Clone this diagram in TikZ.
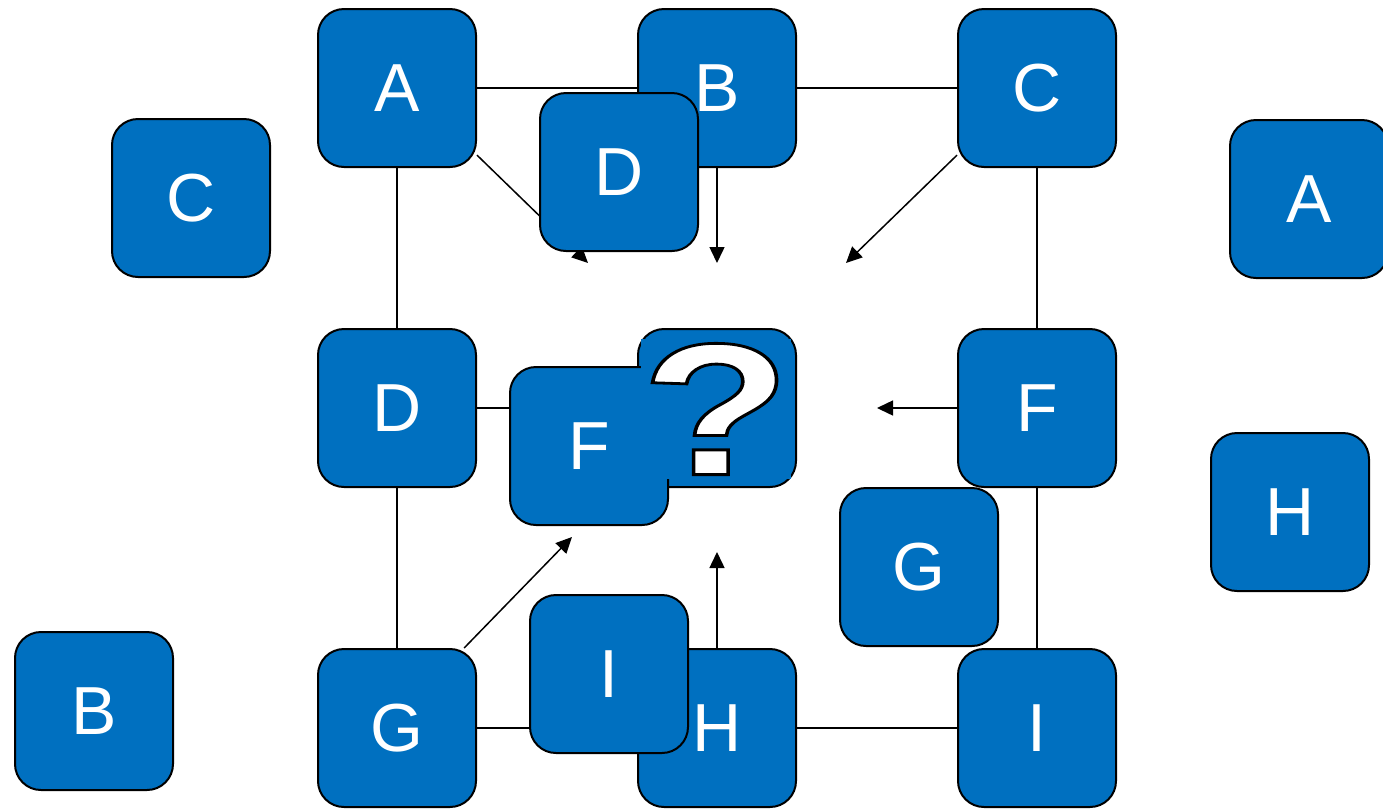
\documentclass[tikz,border=0pt]{standalone}
\usepackage{fontspec}
\setsansfont{Liberation Sans}
\usepackage{graphicx}
\usetikzlibrary{arrows.meta}
\definecolor{boxblue}{HTML}{0070C0}
% white letter with a black rim
\newcommand\hollow[1]{\special{pdf:literal direct 0 G 1.4 w 2 Tr}#1\special{pdf:literal direct 0 Tr}}

\begin{document}
\begin{tikzpicture}[x=0.5pt,y=-0.5pt,
    tile/.style={
% The shape:
rectangle, rounded corners=13pt,
% The size:
minimum size=79pt,
% The border:
line width=1pt, draw, fill=boxblue,
% The letter:
text=white, font=\sffamily\fontsize{34}{40}\selectfont,
},
    link/.style={line width=1pt},
    push/.style={line width=0.75pt, -{Triangle[length=8pt,width=7.5pt]}},
]
  \useasboundingbox (0,0) rectangle (1383,810);
  % the board
  \node[tile] (A) at (397, 88) {A};
  \node[tile] (B) at (717, 88) {B};
  \node[tile] (C) at (1037, 88) {C};
  \node[tile] (D) at (397, 408) {D};
  \node[tile] (Q) at (717, 408) {};
  \node[tile] (F) at (1037, 408) {F};
  \node[tile] (G) at (397, 728) {G};
  \node[tile] (H) at (717, 728) {H};
  \node[tile] (I) at (1037, 728) {I};
  % where the arrows end
  \coordinate (tA) at (588, 263);
  \coordinate (tB) at (717, 263);
  \coordinate (tC) at (846, 263);
  \coordinate (tF) at (877, 408);
  \coordinate (tG) at (572, 537);
  \coordinate (tH) at (717, 552);
  \draw [link] (A) -- (B);
  \draw [link] (B) -- (C);
  \draw [link] (A) -- (D);
  \draw [link] (C) -- (F);
  \draw [link] (D) -- (Q);
  \draw [link] (D) -- (G);
  \draw [link] (F) -- (I);
  \draw [link] (G) -- (H);
  \draw [link] (H) -- (I);
  \draw [push] (A.-40) -- (tA);
  \draw [push] (B.south) -- (tB);
  \draw [push] (C.220) -- (tC);
  \draw [push] (F.west) -- (tF);
  \draw [push] (G.50) -- (tG);
  \draw [push] (H.north) -- (tH);
  % the loose tiles
  \node[tile] (pC) at (191, 198) {C};
  \node[tile] (pA) at (1309, 199) {A};
  \node[tile] (pH) at (1290, 512) {H};
  \node[tile] (pB) at (94, 711) {B};
  \node[tile] (pD) at (619, 172) {D};
  \node[tile] (pF) at (589, 446) {F};
  \node[tile] (pG) at (919, 567) {G};
  \node[tile] (pI) at (609, 674) {I};
  \node[fill=boxblue, minimum width=72pt, minimum height=70pt, inner sep=0pt,
        text=white, font=\bfseries\sffamily\fontsize{94}{94}\selectfont]
        (mark) at (716, 409) {\scalebox{1.3}[1]{\hollow{?}}};
\end{tikzpicture}
\end{document}
